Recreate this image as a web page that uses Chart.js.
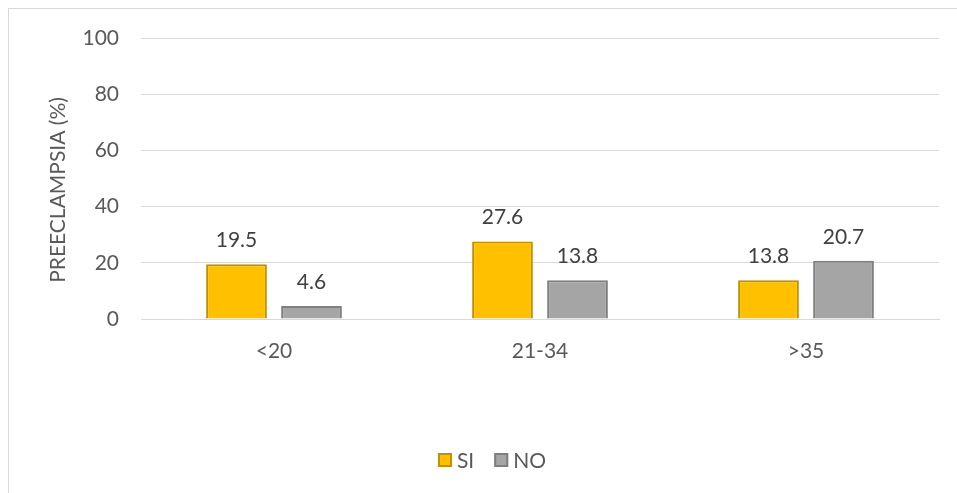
<!DOCTYPE html>
<html>
<head>
<meta charset="utf-8">
<script src="https://cdn.jsdelivr.net/npm/chart.js@4/dist/chart.umd.min.js"></script>
<style>
  html, body { margin: 0; padding: 0; background: #fff; }
  #wrap { position: relative; width: 957px; height: 493px; overflow: hidden; }
  #frame { position: absolute; left: 8px; top: 8px; width: 1000px; height: 1000px;
           border-left: 1px solid #d9d9d9; border-top: 1px solid #d9d9d9; box-sizing: border-box; }
  canvas { position: absolute; left: 0; top: 0; }
</style>
</head>
<body>
<div id="wrap">
  <div id="frame"></div>
  <canvas id="chart" width="957" height="493"></canvas>
</div>
<script>
// Age groups and preeclampsia share (%) per answer
const categories = ['<20', '21-34', '>35'];
const siValues = [19.5, 27.6, 13.8];
const noValues = [4.6, 13.8, 20.7];
const yTicks = [0, 20, 40, 60, 80, 100];
const yTitle = 'PREECLAMPSIA (%)';

const FONT = 'Lato, "Open Sans", sans-serif';
const SIZE = 21;
const TEXT = '#595959';

// Writes each bar's value above it
const valueLabels = {
  id: 'valueLabels',
  afterDatasetsDraw(chart) {
    const ctx = chart.ctx;
    ctx.save();
    ctx.font = SIZE + 'px ' + FONT;
    ctx.fillStyle = '#404040';
    ctx.textAlign = 'center';
    ctx.textBaseline = 'middle';
    chart.data.datasets.forEach((ds, i) => {
      chart.getDatasetMeta(i).data.forEach((bar, j) => {
        ctx.fillText(ds.data[j].toFixed(1), bar.x, bar.y - 24);
      });
    });
    ctx.restore();
  }
};

// Rotated value-axis caption, sitting a little below the axis middle
const axisCaption = {
  id: 'axisCaption',
  afterDraw(chart, args, opts) {
    const ctx = chart.ctx;
    ctx.save();
    ctx.translate(opts.x, opts.y);
    ctx.rotate(-Math.PI / 2);
    ctx.font = SIZE + 'px ' + FONT;
    ctx.fillStyle = TEXT;
    ctx.textAlign = 'center';
    ctx.textBaseline = 'middle';
    ctx.fillText(opts.text, 0, 0);
    ctx.restore();
  }
};

// Compact legend row under the axis: small square, tight gap, label
const compactLegend = {
  id: 'compactLegend',
  afterDraw(chart, args, opts) {
    const ctx = chart.ctx;
    const box = 14, gapText = 5, gapItem = 20;
    ctx.save();
    ctx.font = SIZE + 'px ' + FONT;
    const items = chart.data.datasets.map(ds => ({ ds, w: ctx.measureText(ds.label).width }));
    const total = items.reduce((s, it) => s + box + gapText + it.w, 0) + gapItem * (items.length - 1);
    let x = opts.centerX - total / 2;
    const y = opts.y;
    items.forEach(it => {
      ctx.fillStyle = it.ds.backgroundColor;
      ctx.fillRect(x, y - box / 2, box, box);
      ctx.strokeStyle = it.ds.borderColor;
      ctx.lineWidth = 2;
      ctx.strokeRect(x + 1, y - box / 2 + 1, box - 2, box - 2);
      ctx.fillStyle = TEXT;
      ctx.textAlign = 'left';
      ctx.textBaseline = 'middle';
      ctx.fillText(it.ds.label, x + box + gapText, y + 1);
      x += box + gapText + it.w + gapItem;
    });
    ctx.restore();
  }
};

new Chart(document.getElementById('chart'), {
  type: 'bar',
  data: {
    labels: categories,
    datasets: [
      { label: 'SI', data: siValues, backgroundColor: '#FFC000', borderColor: '#BF9000', borderWidth: 2 },
      { label: 'NO', data: noValues, backgroundColor: '#A5A5A5', borderColor: '#7F7F7F', borderWidth: 2 }
    ]
  },
  options: {
    responsive: false,
    animation: false,
    devicePixelRatio: 1,
    categoryPercentage: 0.564,
    barPercentage: 0.81,
    layout: { padding: { left: 0, right: 18, top: 38, bottom: 0 } },
    plugins: {
      tooltip: { enabled: false },
      legend: { display: false },
      compactLegend: { centerX: 492, y: 460 },
      axisCaption: { text: yTitle, x: 58, y: 190 }
    },
    scales: {
      x: {
        grid: { display: false, drawTicks: false },
        border: { display: true, color: '#d9d9d9', width: 1 },
        ticks: { color: TEXT, font: { family: FONT, size: SIZE }, padding: 20 },
        afterFit(scale) { scale.height = 174; }
      },
      y: {
        min: 0,
        max: 100,
        afterBuildTicks(scale) { scale.ticks = yTicks.map(v => ({ value: v })); },
        grid: { color: '#d9d9d9', lineWidth: 1, drawTicks: false },
        border: { display: false },
        ticks: { color: TEXT, font: { family: FONT, size: SIZE }, padding: 22 },
        afterFit(scale) { scale.width = 141; }
      }
    }
  },
  plugins: [valueLabels, axisCaption, compactLegend]
});
</script>
</body>
</html>
